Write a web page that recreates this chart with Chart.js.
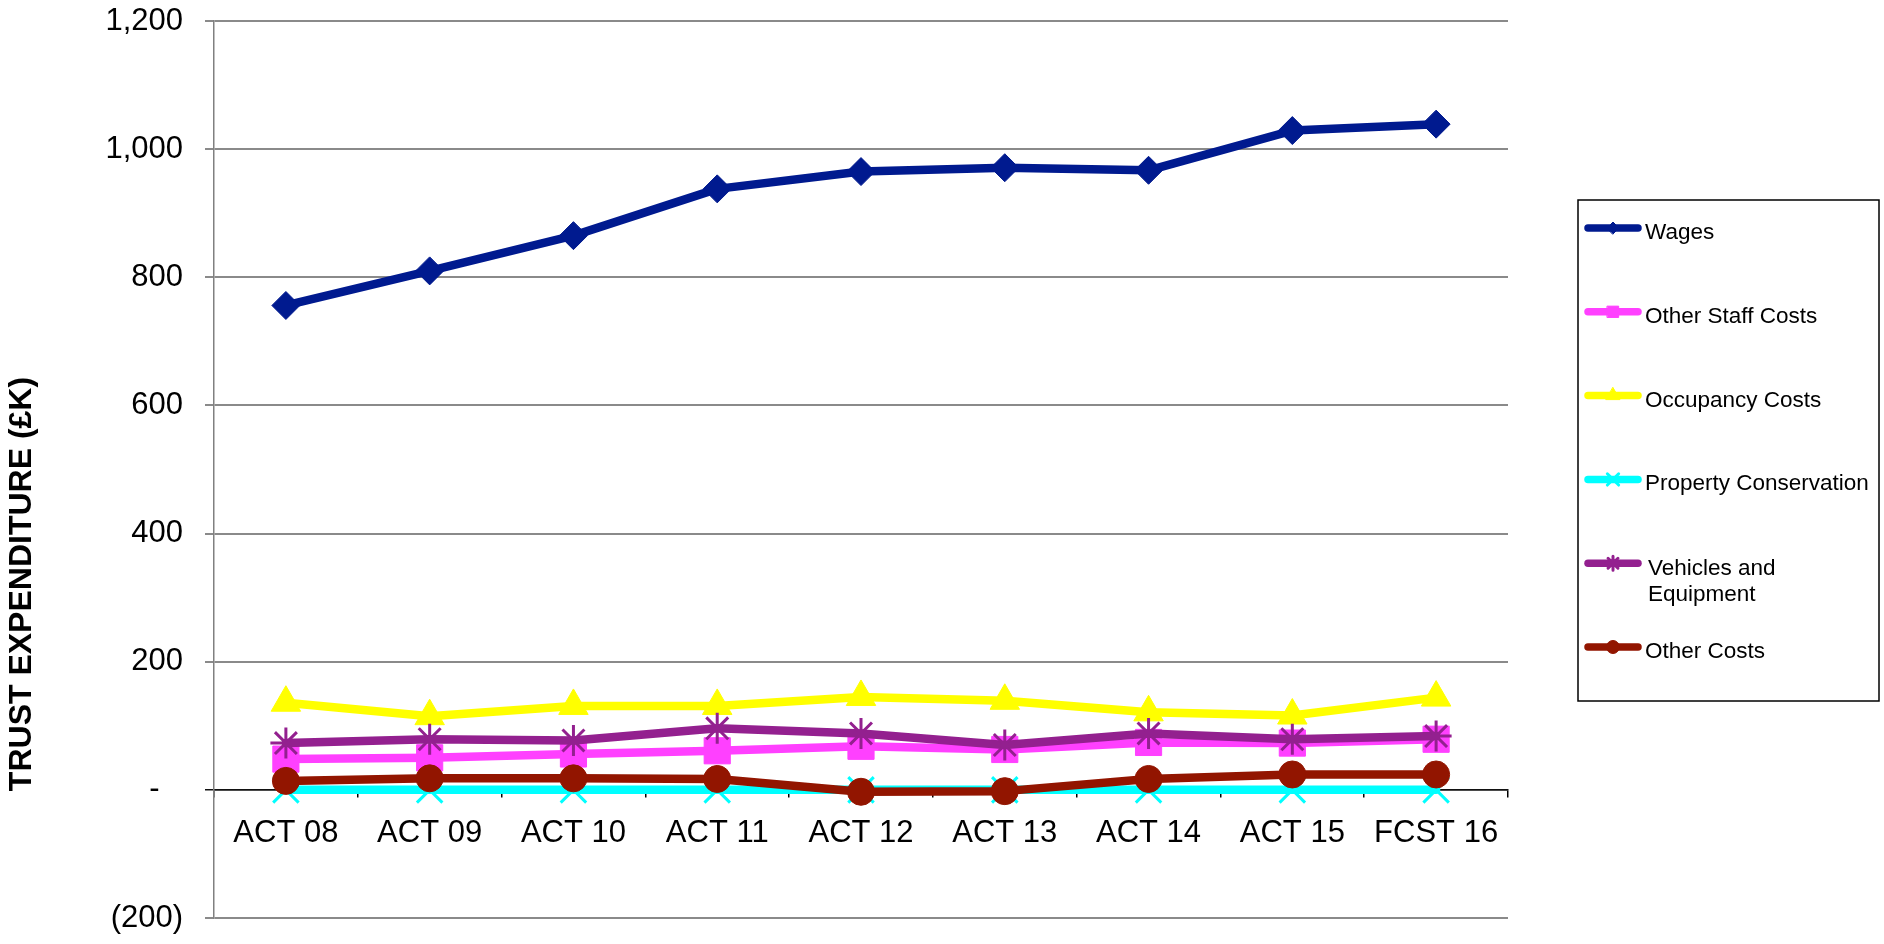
<!DOCTYPE html>
<html>
<head>
<meta charset="utf-8">
<title>Trust Expenditure</title>
<script src="https://cdn.jsdelivr.net/npm/chart.js@4.4.1/dist/chart.umd.min.js"></script>
<style>
  html, body { margin: 0; padding: 0; background: #ffffff; }
  #wrap { width: 1884px; height: 944px; }
</style>
</head>
<body>
<div id="wrap"><canvas id="chart" width="1884" height="944"></canvas></div>
<script>
// Financial years on the category axis
const categories = ['ACT 08', 'ACT 09', 'ACT 10', 'ACT 11', 'ACT 12', 'ACT 13', 'ACT 14', 'ACT 15', 'FCST 16'];

// Expenditure by cost heading, £K
const wages                = [756, 810, 865, 938, 965, 971, 967, 1029, 1039];
const otherStaffCosts      = [48, 50, 56, 61, 68, 63, 74, 73, 79];
const occupancyCosts       = [136, 115, 131, 131, 145, 139, 121, 116, 144];
const propertyConservation = [0, 0, 0, 0, 0, 0, 0, 0, 0];
const vehiclesEquipment    = [73, 79, 77, 96, 88, 70, 88, 79, 84];
const otherCosts           = [14, 18, 18, 17, -3, -2, 17, 24, 24];

const seriesNames = ['Wages', 'Other Staff Costs', 'Occupancy Costs', 'Property Conservation', 'Vehicles and Equipment', 'Other Costs'];

// Value axis range
const yMin = -200;
const yMax = 1200;
const yStep = 200;

const axisTitle = 'TRUST EXPENDITURE (£K)';

const FONT = "'Liberation Sans', Arial, Helvetica, sans-serif";

// Accounting style tick labels: 1,200 / - / (200)
function accountingLabel(v) {
  if (v === 0) return '-  \u2009';
  const s = Math.abs(v).toLocaleString('en-US');
  return v < 0 ? '(' + s + ')' : s;
}

const styles = [
  { color: '#001A8F', point: 'rectRot',  radius: 14,   pw: 1, legendR: 6 },
  { color: '#FF40FF', point: 'rect',     radius: 18.5, pw: 1, legendR: 8 },
  { color: '#FFFF00', point: 'triangle', radius: 17,   pw: 1, legendR: 8 },
  { color: '#00FFFF', point: 'crossRot', radius: 18,   pw: 3, legendR: 8 },
  { color: '#93208F', point: 'star',     radius: 15.5, pw: 3, legendR: 7 },
  { color: '#921500', point: 'circle',   radius: 13.5, pw: 1, legendR: 6.5 }
];

const seriesValues = [wages, otherStaffCosts, occupancyCosts, propertyConservation, vehiclesEquipment, otherCosts];

const datasets = seriesValues.map((vals, i) => ({
  label: seriesNames[i],
  data: vals,
  borderColor: styles[i].color,
  backgroundColor: styles[i].color,
  borderWidth: 8.5,
  borderJoinStyle: 'round',
  borderCapStyle: 'round',
  tension: 0,
  pointStyle: styles[i].point,
  pointRadius: styles[i].radius,
  pointBackgroundColor: styles[i].color,
  pointBorderColor: styles[i].color,
  pointBorderWidth: styles[i].pw,
  order: seriesValues.length - 1 - i,   // later series sit on top
  clip: false
}));

// Rotated value-axis title
const axisTitlePlugin = {
  id: 'axisTitle',
  afterDraw(chart) {
    const ctx = chart.ctx;
    ctx.save();
    ctx.translate(22, 584);
    ctx.rotate(-Math.PI / 2);
    ctx.font = 'bold 32px ' + FONT;
    ctx.fillStyle = '#000';
    ctx.textAlign = 'center';
    ctx.textBaseline = 'middle';
    ctx.fillText(axisTitle, 0, 0);
    ctx.restore();
  }
};

// Boxed legend on the right, one entry per series
const boxedLegendPlugin = {
  id: 'boxedLegend',
  afterDraw(chart) {
    const ctx = chart.ctx;
    const box = { left: 1578, top: 200, right: 1879, bottom: 701 };
    ctx.save();
    ctx.strokeStyle = '#000';
    ctx.lineWidth = 1.5;
    ctx.strokeRect(box.left, box.top, box.right - box.left, box.bottom - box.top);

    const x0 = 1588, x1 = 1638, textX = 1645;
    const firstY = 228, gap = 83.8;
    ctx.font = '22.5px ' + FONT;
    ctx.textBaseline = 'alphabetic';
    ctx.textAlign = 'left';
    const maxW = box.right - textX - 4;

    chart.data.datasets.forEach((ds, i) => {
      const y = firstY + i * gap;
      const st = styles[i];
      // line sample
      ctx.strokeStyle = st.color;
      ctx.lineWidth = 7.5;
      ctx.lineCap = 'round';
      ctx.beginPath();
      ctx.moveTo(x0, y);
      ctx.lineTo(x1, y);
      ctx.stroke();
      // marker sample
      ctx.fillStyle = st.color;
      ctx.strokeStyle = st.color;
      ctx.lineWidth = st.pw;
      Chart.helpers.drawPoint(ctx, {
        pointStyle: st.point, rotation: 0, radius: st.legendR, borderWidth: st.pw
      }, (x0 + x1) / 2, y);
      // label, wrapped to the box width
      const words = ds.label.split(' ');
      const lines = [];
      let cur = '';
      words.forEach(w => {
        const t = cur ? cur + ' ' + w : w;
        if (ctx.measureText(t).width > maxW && cur) { lines.push(cur); cur = w; }
        else cur = t;
      });
      lines.push(cur);
      ctx.fillStyle = '#000';
      if (lines.length === 1) {
        ctx.fillText(lines[0], textX, y + 11);
      } else {
        lines.forEach((ln, k) => ctx.fillText(ln, textX + 3, y + 12 + k * 25.6));
      }
    });
    ctx.restore();
  }
};

new Chart(document.getElementById('chart'), {
  type: 'line',
  data: { labels: categories, datasets },
  options: {
    responsive: false,
    animation: false,
    events: [],
    layout: { padding: { left: 0, right: 376, top: 18.5, bottom: 26 } },
    plugins: {
      legend: { display: false },
      tooltip: { enabled: false }
    },
    scales: {
      x: {
        type: 'category',
        position: { y: 0 },
        offset: true,
        grid: {
          display: true,
          drawOnChartArea: false,
          drawTicks: true,
          tickLength: 7,
          offset: true,
          color: '#000',
          lineWidth: 1.5
        },
        border: { display: true, color: '#111', width: 1.5 },
        ticks: {
          color: '#000',
          font: { family: FONT, size: 31 },
          padding: 18,
          maxRotation: 0,
          autoSkip: false
        }
      },
      y: {
        min: yMin,
        max: yMax,
        ticks: {
          stepSize: yStep,
          color: '#000',
          font: { family: FONT, size: 31 },
          padding: 22,
          callback: (v) => accountingLabel(v)
        },
        grid: {
          color: (c) => (c.tick && c.tick.value === 0 ? '#111' : '#8a8a8a'),
          lineWidth: (c) => (c.tick && c.tick.value === 0 ? 1.5 : 2),
          tickLength: 9,
          drawTicks: true
        },
        border: { display: true, color: '#808080', width: 1.5 },
        afterFit: (scale) => {
          scale.width = 214;
          // the plot edges are set by the layout padding alone
          scale.paddingTop = 0;
          scale.paddingBottom = 0;
        }
      }
    }
  },
  plugins: [axisTitlePlugin, boxedLegendPlugin]
});
</script>
</body>
</html>
